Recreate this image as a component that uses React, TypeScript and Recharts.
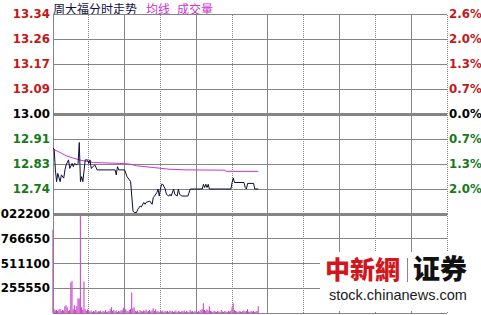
import React from "react";
import { ComposedChart, Line, Bar, XAxis, YAxis, ReferenceLine } from "recharts";

// previous close, the 0.0% line
const prevClose = 13.0;

// price axis rows (evenly spaced) and what they read
const priceTicks = [13.34, 13.255, 13.17, 13.085, 13.0, 12.915, 12.83, 12.745];
const priceLabels = ["13.34", "13.26", "13.17", "13.09", "13.00", "12.91", "12.83", "12.74"];
const pctLabels = ["2.6%", "2.0%", "1.3%", "0.7%", "0.0%", "0.7%", "1.3%", "2.0%"];

// volume axis rows; the top label is shown with its leading digit cut
const volTicks = [1022200, 766650, 511100, 255550];
const volLabels = ["022200", "766650", "511100", "255550"];

// minutes of the session: 09:30-12:00, 13:00-16:00, one column every 30 min
const sessionMinutes = 330;
const timeGrid = [0, 30, 60, 90, 120, 150, 180, 210, 240, 270, 300, 330];

// [minute, price]
const pricePoints: [number, number][] = [
  [0, 12.884], [1, 12.88], [2, 12.81], [3, 12.77], [4, 12.798], [6, 12.77], [7, 12.793],
  [9, 12.782], [10, 12.81], [11, 12.827], [13, 12.844], [14, 12.815], [16, 12.832],
  [17, 12.821], [18, 12.832], [20, 12.827], [21, 12.832], [22, 12.903], [23, 12.77],
  [24, 12.787], [25, 12.77], [27, 12.844], [29, 12.844], [30, 12.832], [31, 12.844],
  [32, 12.815], [35, 12.827], [37, 12.81], [52, 12.81], [53, 12.793], [54, 12.821],
  [55, 12.81], [60, 12.81], [62, 12.787], [64, 12.776], [65, 12.77], [67, 12.67],
  [68, 12.665], [70, 12.665], [71, 12.676], [73, 12.687], [74, 12.684], [76, 12.699],
  [77, 12.693], [78, 12.699], [81, 12.704], [83, 12.693], [84, 12.716], [85, 12.721],
  [87, 12.733], [88, 12.745], [89, 12.721], [90, 12.745], [91, 12.761], [92, 12.761],
  [94, 12.745], [95, 12.727], [97, 12.721], [98, 12.727], [99, 12.721], [101, 12.745],
  [102, 12.727], [104, 12.721], [105, 12.745], [106, 12.727], [108, 12.721], [113, 12.721],
  [115, 12.745], [125, 12.745], [126, 12.761], [127, 12.75], [128, 12.761], [129, 12.75],
  [130, 12.761], [131, 12.745], [149, 12.745], [150, 12.767], [151, 12.782], [152, 12.767],
  [160, 12.767], [161, 12.75], [162, 12.745], [163, 12.764], [168, 12.764], [169, 12.745],
  [172, 12.745],
];

// [minute, average price]
const avgPoints: [number, number][] = [
  [0, 12.881], [6, 12.869], [11, 12.858], [17, 12.85], [23, 12.843], [28, 12.839],
  [34, 12.835], [56, 12.832], [64, 12.83], [70, 12.824], [84, 12.818], [98, 12.812],
  [112, 12.81], [144, 12.809], [145, 12.805], [172, 12.805],
];

// volume per minute, minute 0..172
const volumes = [
  860000,
  40000, 25000, 30000, 20000, 35000, 45000, 20000, 30000, 25000,
  70000, 80000, 60000, 20000, 30000, 315000, 330000, 40000, 80000, 30000,
  70000, 150000, 150000, 1010000, 60000, 30000, 325000, 40000, 20000, 35000,
  20000, 15000, 25000, 10000, 20000, 15000, 30000, 10000, 20000, 15000,
  25000, 10000, 20000, 15000, 30000, 10000, 15000, 20000, 40000, 60000,
  20000, 30000, 15000, 25000, 10000, 20000, 15000, 25000, 30000, 55000,
  60000, 40000, 20000, 15000, 30000, 40000, 212000, 50000, 60000, 20000,
  15000, 25000, 10000, 30000, 20000, 15000, 25000, 20000, 35000, 15000,
  20000, 30000, 15000, 25000, 50000, 20000, 40000, 15000, 20000, 10000,
  20000, 15000, 25000, 10000, 20000, 15000, 20000, 10000, 25000, 15000,
  20000, 10000, 15000, 25000, 10000, 20000, 15000, 10000, 20000, 15000,
  25000, 10000, 20000, 15000, 10000, 30000, 15000, 20000, 10000, 20000,
  15000, 10000, 20000, 15000, 30000, 40000, 100000, 30000, 20000, 40000,
  25000, 70000, 20000, 15000, 10000, 20000, 15000, 10000, 20000, 15000,
  10000, 30000, 15000, 10000, 20000, 15000, 10000, 20000, 15000, 25000,
  60000, 100000, 30000, 20000, 15000, 10000, 20000, 15000, 10000, 20000,
  25000, 15000, 20000, 40000, 15000, 10000, 20000, 15000, 20000, 10000,
  15000, 20000, 70000,
];

const priceMap = new Map(pricePoints);
const avgMap = new Map(avgPoints);
const rows = volumes.map((vol, t) => ({
  t,
  price: priceMap.get(t) ?? null,
  avg: avgMap.get(t) ?? null,
  vol,
}));

const pctTicks = priceTicks.map((p) => ((p - prevClose) / prevClose) * 100);
const pctMax = ((13.34 - prevClose) / prevClose) * 100;

const RED = "#c41818";
const GREEN = "#16781a";
const GRID = "#858585";
const MAGENTA = "#cc33cc";

const labelFont: React.CSSProperties = {
  fontFamily: "'DejaVu Sans', sans-serif",
  fontWeight: 700,
  fontSize: 11.8,
};

const tone = (v: number) => (v > 0 ? RED : v < 0 ? GREEN : "#000");

function PriceTick(props: any) {
  const { x, y, payload } = props;
  const i = priceTicks.indexOf(payload.value);
  return (
    <text x={x} y={y} textAnchor="end" dominantBaseline="central" fill={tone(payload.value - prevClose)} style={labelFont}>
      {priceLabels[i]}
    </text>
  );
}

function PctTick(props: any) {
  const { x, y, payload } = props;
  const i = pctTicks.indexOf(payload.value);
  return (
    <text x={x} y={y} textAnchor="start" dominantBaseline="central" fill={tone(payload.value)} style={labelFont}>
      {pctLabels[i]}
    </text>
  );
}

function VolTick(props: any) {
  const { x, y, payload } = props;
  const i = volTicks.indexOf(payload.value);
  return (
    <text x={x} y={y} textAnchor="end" dominantBaseline="central" fill="#000" style={labelFont}>
      {volLabels[i]}
    </text>
  );
}

function timeLines(axisId: string) {
  return timeGrid.map((t, i) => (
    <ReferenceLine
      key={`t${t}`}
      yAxisId={axisId}
      x={t}
      stroke={GRID}
      strokeDasharray={i % 2 ? "1 1" : undefined}
      shapeRendering="crispEdges"
    />
  ));
}

export default function App() {
  return (
    <div style={{ position: "fixed", left: 0, top: 0, width: 481, height: 315, background: "#fff", overflow: "hidden" }}>
      {/* title row */}
      <div
        style={{
          position: "absolute",
          left: 53,
          top: 0,
          fontFamily: "'Noto Sans CJK SC', sans-serif",
          fontSize: 12,
          lineHeight: "17px",
          whiteSpace: "nowrap",
        }}
      >
        <span style={{ color: "#101040" }}>周大福分时走势</span>
        <span style={{ color: MAGENTA, marginLeft: 9 }}>均线</span>
        <span style={{ color: MAGENTA, marginLeft: 7 }}>成交量</span>
      </div>

      {/* price panel */}
      <div style={{ position: "absolute", left: 0, top: 0 }}>
        <ComposedChart width={481} height={220} data={rows} margin={{ top: 14, right: 0, bottom: 6, left: 0 }}>
          <XAxis type="number" dataKey="t" domain={[0, sessionMinutes]} hide />
          <YAxis
            yAxisId="price"
            domain={[12.66, 13.34]}
            ticks={priceTicks}
            width={53}
            axisLine={false}
            tickLine={false}
            tickSize={0}
            tickMargin={3}
            tick={<PriceTick />}
            interval={0}
            allowDataOverflow
          />
          <YAxis
            yAxisId="pct"
            orientation="right"
            domain={[-pctMax, pctMax]}
            ticks={pctTicks}
            width={34}
            axisLine={false}
            tickLine={false}
            tickSize={0}
            tickMargin={2}
            tick={<PctTick />}
            interval={0}
            allowDataOverflow
          />
          {priceTicks.map((v) => (
            <ReferenceLine
              key={`p${v}`}
              yAxisId="price"
              y={v}
              stroke={GRID}
              strokeWidth={v === prevClose ? 3 : 1}
              shapeRendering="crispEdges"
            />
          ))}
          {timeLines("price")}
          <Line
            yAxisId="price"
            dataKey="avg"
            type="linear"
            stroke={MAGENTA}
            strokeWidth={1}
            dot={false}
            activeDot={false}
            connectNulls
            isAnimationActive={false}
          />
          <Line
            yAxisId="price"
            dataKey="price"
            type="linear"
            stroke="#0c0c40"
            strokeWidth={1}
            dot={false}
            activeDot={false}
            connectNulls
            isAnimationActive={false}
          />
        </ComposedChart>
      </div>

      {/* volume panel */}
      <div style={{ position: "absolute", left: 0, top: 200 }}>
        <ComposedChart width={481} height={115} data={rows} margin={{ top: 14, right: 34, bottom: 2, left: 0 }}>
          <XAxis type="number" dataKey="t" domain={[0, sessionMinutes]} hide />
          <YAxis
            yAxisId="vol"
            domain={[0, 1022200]}
            ticks={volTicks}
            width={53}
            axisLine={false}
            tickLine={false}
            tickSize={0}
            tickMargin={3}
            tick={<VolTick />}
            interval={0}
            allowDataOverflow
          />
          {[...volTicks, 0].map((v) => (
            <ReferenceLine
              key={`v${v}`}
              yAxisId="vol"
              y={v}
              stroke={GRID}
              strokeWidth={v === volTicks[0] ? 3 : 1}
              shapeRendering="crispEdges"
            />
          ))}
          {timeLines("vol")}
          <Bar yAxisId="vol" dataKey="vol" fill={MAGENTA} barSize={1} isAnimationActive={false} />
        </ComposedChart>
      </div>

      {/* source mark */}
      <div style={{ position: "absolute", left: 320, top: 252, width: 152, height: 59, background: "#fff" }}>
        <div
          style={{
            position: "absolute",
            left: 5,
            top: -1,
            fontFamily: "'Noto Sans CJK SC', sans-serif",
            fontSize: 25,
            fontWeight: 900,
            lineHeight: "34px",
            color: "#d3151c",
            whiteSpace: "nowrap",
          }}
        >
          中新網
        </div>
        <div style={{ position: "absolute", left: 87, top: 6, width: 1, height: 24, background: "#888" }} />
        <div
          style={{
            position: "absolute",
            left: 93,
            top: -1,
            fontFamily: "'Noto Sans CJK SC', sans-serif",
            fontSize: 27,
            fontWeight: 900,
            lineHeight: "34px",
            color: "#111",
            whiteSpace: "nowrap",
          }}
        >
          证券
        </div>
        <div
          style={{
            position: "absolute",
            left: 9,
            top: 35,
            fontFamily: "'Liberation Sans', Arial, sans-serif",
            fontSize: 14.5,
            lineHeight: "17px",
            color: "#1a1a1a",
            whiteSpace: "nowrap",
          }}
        >
          stock.chinanews.com
        </div>
      </div>
    </div>
  );
}
